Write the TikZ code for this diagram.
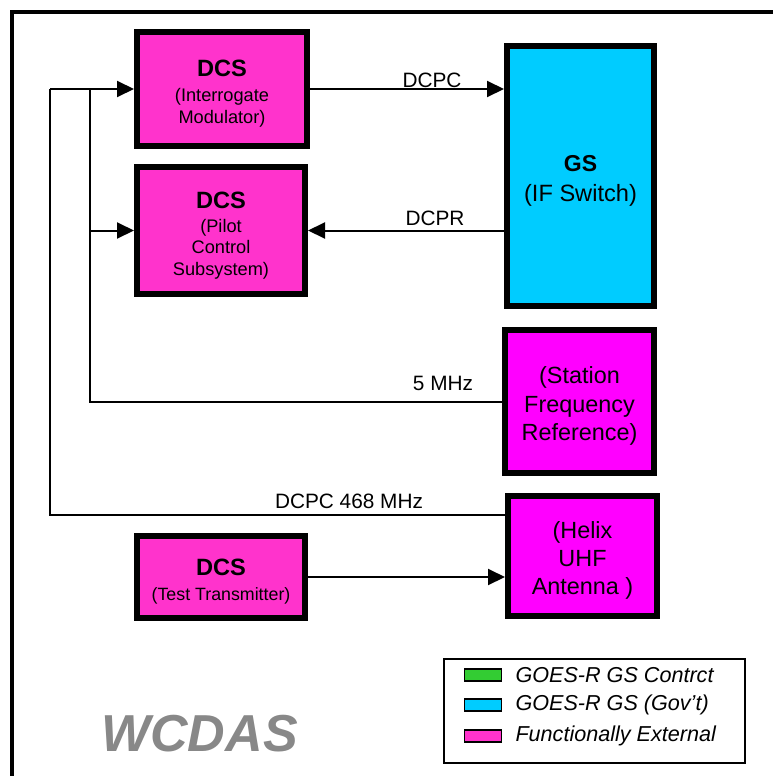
\documentclass[tikz,border=0pt]{standalone}
\usepackage{fontspec}
\setmainfont{Liberation Sans}
\usetikzlibrary{arrows.meta,positioning}

\definecolor{dcspink}{HTML}{FF33CC}
\definecolor{extmagenta}{HTML}{FF00FF}
\definecolor{gscyan}{HTML}{00CCFF}
\definecolor{gsgreen}{HTML}{33CC33}
\definecolor{wcgray}{HTML}{888888}

% strut that lowers the text a little inside the blocks
\newcommand{\blktop}{\rule{0pt}{13pt}}

\begin{document}
\begin{tikzpicture}[x=0.5pt, y=-0.5pt,
    blk/.style={draw, line width=3pt, align=center, inner sep=0pt},
    conn/.style={line width=1pt},
    tip/.style={-{Triangle[length=8.5pt,width=8pt]}},
    lbl/.style={anchor=base, inner sep=0pt, font=\fontsize{10.4}{12}\selectfont},
    swatch/.style={draw, line width=0.6pt, minimum width=18.5pt, minimum height=6pt, inner sep=0pt},
    key/.style={inner sep=0pt, font=\fontsize{10.8}{12}\selectfont\itshape}]
  \useasboundingbox (0,0) rectangle (772,776);

  % outer frame, only top and left edges are in view
  \draw[line width=1.8pt] (12,800) -- (12,12) -- (800,12);

  % blocks
  \node[blk, fill=dcspink, minimum width=85pt, minimum height=57pt,
        font=\fontsize{9.1}{11}\selectfont] (dcsa) at (222,89)
        {\blktop{\fontsize{11.8}{13}\selectfont\bfseries DCS}\\[1.5pt] (Interrogate\\ Modulator)};
  \node[blk, fill=dcspink, minimum width=84pt, minimum height=63.5pt,
        font=\fontsize{9.1}{10.8}\selectfont] (dcsb) at (221,230.5)
        {\blktop{\fontsize{11.8}{13}\selectfont\bfseries DCS}\\[1.2pt] (Pilot\\ Control\\ Subsystem)};
  \node[blk, fill=gscyan, minimum width=73.5pt, minimum height=130pt,
        font=\fontsize{11.8}{15}\selectfont] (gs) at (580.5,176)
        {\blktop{\fontsize{11.5}{13}\selectfont\bfseries GS}\\ (IF Switch)};
  \node[blk, fill=extmagenta, minimum width=74.5pt, minimum height=71.5pt,
        font=\fontsize{11.7}{14.2}\selectfont] (sfr) at (579.5,401.5)
        {\blktop(Station\\ Frequency\\ Reference)};
  \node[blk, fill=extmagenta, minimum width=74.5pt, minimum height=60pt,
        font=\fontsize{11.7}{14.2}\selectfont] (helix) at (582.5,556)
        {\blktop(Helix\\ UHF\\ Antenna )};
  \node[blk, fill=dcspink, minimum width=84pt, minimum height=41pt,
        font=\fontsize{8.9}{11}\selectfont] (dcst) at (221,577)
        {\blktop{\fontsize{11.8}{13}\selectfont\bfseries DCS}\\[1.5pt] (Test Transmitter)};

  % bus corners
  \coordinate (busa) at (50,89);
  \coordinate (busb) at (90,89);

  % connectors
  \draw[conn, tip] (dcsa.east) -- (dcsa.east -| gs.west);
  \draw[conn, tip] (gs.west |- dcsb.east) -- (dcsb.east);
  \draw[conn] (sfr.west) -| (busb);
  \draw[conn] ([yshift=-11pt]helix.north west) -| (busa);
  \draw[conn, tip] (busa) -- (dcsa.west);
  \draw[conn, tip] (busb |- dcsb.west) -- (dcsb.west);
  \draw[conn, tip] (dcst.east) -- (dcst.east -| helix.west);

  % line labels
  \node[lbl] (lbldcpc) at (432,87) {DCPC};
  \node[lbl] (lbldcpr) at (435,225) {DCPR};
  \node[lbl] (lblfive) at (443,390) {5 MHz};
  \node[lbl] (lbluhf) at (349,508) {DCPC 468 MHz};

  % legend
  \node[draw, line width=0.8pt, minimum width=150.7pt, minimum height=52.2pt,
        inner sep=0pt] (legend) at (594.5,711) {};
  \node[swatch, fill=gsgreen] (swgreen) at (483,675) {};
  \node[swatch, fill=gscyan] (swcyan) at (483,705) {};
  \node[swatch, fill=dcspink] (swpink) at (483,736) {};
  \node[key, right=6.5pt of swgreen] (keygreen) {GOES-R GS Contrct};
  \node[key, right=6.5pt of swcyan] (keycyan) {GOES-R GS (Gov't)};
  \node[key, right=6.5pt of swpink] (keypink) {Functionally External};

  \node[anchor=base, inner sep=0pt, text=wcgray,
        font=\fontsize{26}{30}\selectfont\bfseries\itshape] (title) at (199.5,751) {WCDAS};
\end{tikzpicture}
\end{document}
